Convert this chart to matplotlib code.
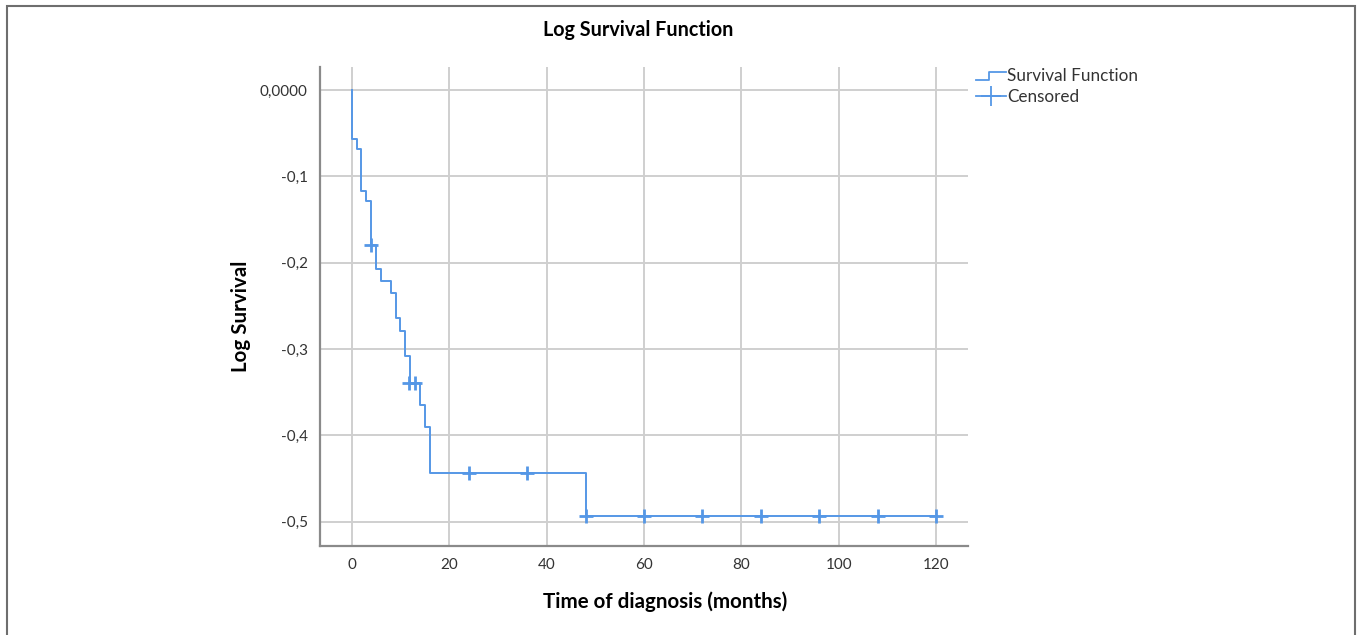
import matplotlib as mpl

mpl.use("Agg")

import matplotlib.pyplot as plt
from matplotlib.legend_handler import HandlerBase
from matplotlib.lines import Line2D
from matplotlib.patches import Rectangle

# step function: event times and log survival after each step
EVENT_TIMES = [0, 1, 2, 3, 4, 5, 6, 8, 9, 10, 11, 12, 14, 15, 16, 48]
LOG_SURV = [-0.0567, -0.0687, -0.1165, -0.129, -0.179, -0.2075, -0.221, -0.235,
            -0.264, -0.2786, -0.308, -0.3395, -0.3646, -0.390, -0.444, -0.493]
END_TIME = 120

CENS_TIMES = [4, 11.7, 12.9, 24, 36, 48, 60, 72, 84, 96, 108, 120]
CENS_VALUES = [-0.179, -0.3395, -0.3395, -0.444, -0.444, -0.493, -0.493,
               -0.493, -0.493, -0.493, -0.493, -0.493]

X_TICKS = [0, 20, 40, 60, 80, 100, 120]
Y_TICKS = [0.0, -0.1, -0.2, -0.3, -0.4, -0.5]
Y_TICK_LABELS = ["0,0000", "-0,1", "-0,2", "-0,3", "-0,4", "-0,5"]

LINE_COLOR = "#5597e6"
GRID_COLOR = "#cfcfcf"
SPINE_COLOR = "#8a8a8a"

plt.rcParams["font.family"] = ["Lato", "DejaVu Sans"]


class StepHandler(HandlerBase):
    def create_artists(self, legend, orig_handle, xd, yd, width, height, fontsize, trans):
        xs = [xd, xd + width * 0.45, xd + width * 0.45, xd + width]
        ys = [yd + height * 0.1, yd + height * 0.1, yd + height * 0.8, yd + height * 0.8]
        line = Line2D(xs, ys, color=LINE_COLOR, lw=1.3, transform=trans)
        return [line]


fig = plt.figure(figsize=(13.6, 6.35), dpi=100, facecolor="white")
ax = fig.add_axes([0.2353, 0.1402, 0.4765, 0.7543])

# build the step path
xs = [0, 0]
ys = [0.0, LOG_SURV[0]]
for i in range(1, len(EVENT_TIMES)):
    xs += [EVENT_TIMES[i], EVENT_TIMES[i]]
    ys += [LOG_SURV[i - 1], LOG_SURV[i]]
xs.append(END_TIME)
ys.append(LOG_SURV[-1])
ax.plot(xs, ys, color=LINE_COLOR, lw=1.4, zorder=3)

ax.plot(CENS_TIMES, CENS_VALUES, linestyle="none", marker="+", markersize=10,
        markeredgewidth=2.0, color=LINE_COLOR, zorder=4)

ax.set_xlim(-6.5, 126.5)
ax.set_ylim(-0.528, 0.0266)
ax.set_xticks(X_TICKS)
ax.set_xticklabels([str(t) for t in X_TICKS])
ax.set_yticks(Y_TICKS)
ax.set_yticklabels(Y_TICK_LABELS)
ax.tick_params(length=0, labelsize=11, labelcolor="#333333", pad=9)
ax.grid(True, color=GRID_COLOR, lw=1.4)
ax.set_axisbelow(True)
for side in ("top", "right"):
    ax.spines[side].set_visible(False)
for side in ("left", "bottom"):
    ax.spines[side].set_color(SPINE_COLOR)
    ax.spines[side].set_linewidth(1.6)

fig.text(0.469, 0.952, "Log Survival Function", ha="center", va="center",
         fontsize=14.2, fontweight="bold")
fig.text(0.489, 0.053, "Time of diagnosis (months)", ha="center", va="center",
         fontsize=14.8, fontweight="bold")
fig.text(0.177, 0.502, "Log Survival", ha="center", va="center", rotation=90,
         fontsize=14.8, fontweight="bold")

step_handle = Line2D([], [], color=LINE_COLOR)
cens_handle = Line2D([], [], color=LINE_COLOR, marker="+", markersize=14,
                     markeredgewidth=1.3, lw=1.3)
fig.legend([step_handle, cens_handle], ["Survival Function", "Censored"],
           handler_map={step_handle: StepHandler()},
           loc="upper left", bbox_to_anchor=(0.7125, 0.903), frameon=False,
           fontsize=12.3, handlelength=1.75, handletextpad=0.1, labelspacing=0.25,
           borderaxespad=0, labelcolor="#333333")

fig.patches.append(Rectangle((7 / 1360, -0.05), 1348 / 1360, 1.04, transform=fig.transFigure,
                             fill=False, edgecolor="#6e6e6e", lw=1.5))

fig.savefig("out.png", dpi=100, facecolor="white")
